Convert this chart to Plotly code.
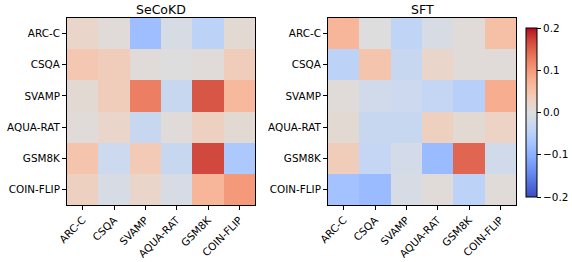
import plotly.graph_objects as go

labels = ["ARC-C", "CSQA", "SVAMP", "AQUA-RAT", "GSM8K", "COIN-FLIP"]

secokd = [
    [0.020, 0.005, -0.080, -0.010, -0.045, 0.010],
    [0.045, 0.035, 0.005, 0.000, 0.005, 0.035],
    [0.010, 0.035, 0.125, -0.030, 0.158, 0.065],
    [0.005, 0.020, -0.030, 0.005, 0.030, 0.010],
    [0.050, -0.025, 0.040, -0.030, 0.168, -0.065],
    [0.030, -0.010, 0.020, -0.010, 0.070, 0.100],
]

sft = [
    [0.070, 0.000, -0.040, -0.010, 0.005, 0.055],
    [-0.045, 0.050, -0.030, 0.020, 0.005, 0.005],
    [0.005, -0.020, -0.025, -0.035, -0.050, 0.080],
    [0.010, -0.030, -0.030, 0.030, 0.010, 0.025],
    [0.035, -0.035, -0.015, -0.085, 0.145, -0.020],
    [-0.075, -0.085, -0.010, 0.005, -0.045, 0.005],
]

titles = ["SeCoKD", "SFT"]
cbar_ticks = [-0.2, -0.1, 0.0, 0.1, 0.2]
cbar_labels = ["\u22120.2", "\u22120.1", "0.0", "0.1", "0.2"]

cw = [
    (59, 76, 192), (68, 90, 204), (77, 104, 215), (87, 117, 225), (98, 130, 234),
    (108, 142, 241), (119, 154, 247), (130, 165, 251), (141, 176, 254), (152, 185, 255),
    (163, 194, 255), (174, 201, 253), (184, 208, 249), (194, 213, 244), (204, 217, 238),
    (213, 219, 230), (221, 221, 221), (229, 216, 209), (236, 211, 197), (241, 204, 184),
    (245, 196, 172), (247, 187, 160), (247, 177, 148), (247, 166, 135), (244, 154, 123),
    (241, 141, 111), (236, 127, 99), (229, 112, 88), (222, 96, 77), (213, 80, 66),
    (203, 62, 56), (192, 40, 47), (180, 4, 38),
]
colorscale = [[i / (len(cw) - 1), "rgb(%d,%d,%d)" % c] for i, c in enumerate(cw)]

font = dict(family="DejaVu Sans", size=10.4, color="black")

fig = go.Figure()
fig.add_trace(go.Heatmap(z=secokd, x=labels, y=labels, zmin=-0.2, zmax=0.2,
                         colorscale=colorscale, showscale=False,
                         xaxis="x", yaxis="y"))
fig.add_trace(go.Heatmap(z=sft, x=labels, y=labels, zmin=-0.2, zmax=0.2,
                         colorscale=colorscale, xaxis="x2", yaxis="y2",
                         colorbar=dict(x=526 / 572, xanchor="left", xpad=0, ypad=0,
                                       thickness=11, len=169 / 262, lenmode="fraction",
                                       y=65 / 262, yanchor="bottom",
                                       outlinecolor="black", outlinewidth=1,
                                       tickvals=cbar_ticks, ticktext=cbar_labels,
                                       ticks="outside", ticklen=4, tickcolor="black",
                                       tickfont=font)))

ax_common = dict(showline=True, linecolor="black", linewidth=1, mirror=True,
                 ticks="outside", ticklen=4, tickcolor="black", tickfont=font,
                 showgrid=False, zeroline=False)
ydom = [57 / 262, 1 - 18 / 262]
title_font = dict(family="DejaVu Sans", size=12.5, color="black")
fig.update_layout(
    width=572, height=262,
    margin=dict(l=0, r=0, t=0, b=0, autoexpand=False),
    paper_bgcolor="white", plot_bgcolor="white",
    font=font,
    xaxis=dict(domain=[67 / 572, 255 / 572], anchor="y", tickangle=-45, **ax_common),
    yaxis=dict(domain=ydom, anchor="x", autorange="reversed", **ax_common),
    xaxis2=dict(domain=[328 / 572, 516 / 572], anchor="y2", tickangle=-45, **ax_common),
    yaxis2=dict(domain=ydom, anchor="x2", autorange="reversed", **ax_common),
    annotations=[
        dict(text=titles[0], x=(67 + 255) / 2 / 572, y=1 - 10 / 262, xref="paper", yref="paper",
             xanchor="center", yanchor="middle", showarrow=False, font=title_font),
        dict(text=titles[1], x=(328 + 516) / 2 / 572, y=1 - 10 / 262, xref="paper", yref="paper",
             xanchor="center", yanchor="middle", showarrow=False, font=title_font),
    ],
)

fig.write_html("out.html", config={"displayModeBar": False},
               post_script="document.body.style.margin='0';document.body.style.overflow='hidden';")
